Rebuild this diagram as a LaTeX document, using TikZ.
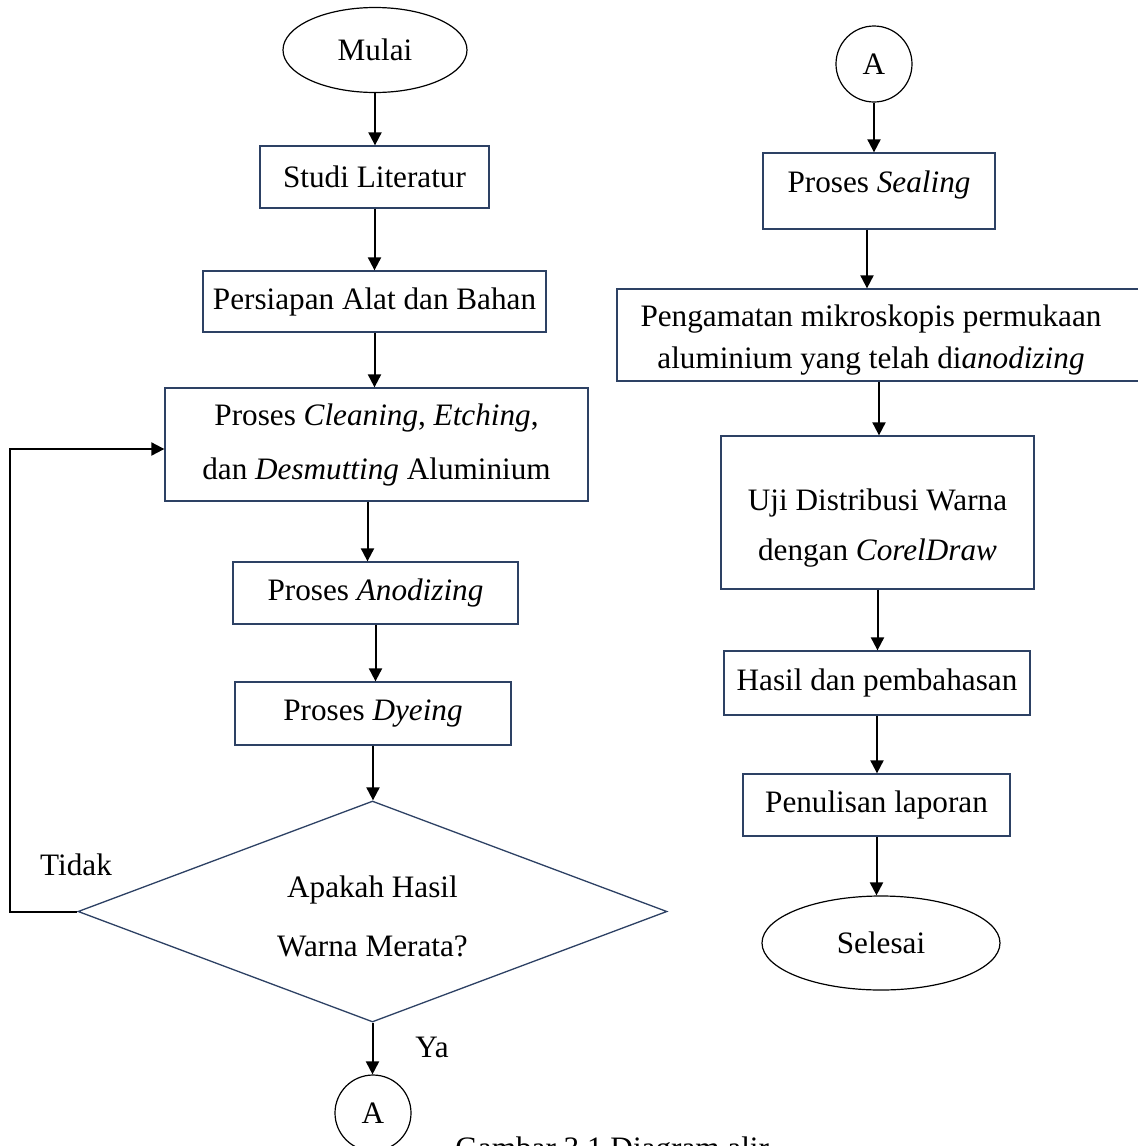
\documentclass[tikz,border=0pt]{standalone}
\usepackage{fontspec}
\setmainfont{Liberation Serif}
\usetikzlibrary{shapes.geometric,arrows.meta,calc}
\definecolor{boxblue}{RGB}{45,65,100}
\begin{document}
\begin{tikzpicture}[x=0.5pt,y=-0.5pt,
 every node/.style={font=\fontsize{15.6pt}{24pt}\selectfont, inner sep=0pt},
 pbox/.style={draw=boxblue, line width=0.65pt, rectangle, align=center},
 term/.style={draw=black, line width=0.6pt, ellipse},
 conn/.style={draw=black, line width=0.6pt, circle, minimum size=38pt},
 arr/.style={line width=1pt, -{Triangle[width=6.5pt,length=6.5pt]}},
]
\fill[white] (0,0) rectangle (1137,1146);
\useasboundingbox (0,0) rectangle (1137,1146);

% left column
\node[term, minimum width=92pt, minimum height=42.5pt] (mulai) at (375,50) {Mulai};
\node[pbox, minimum width=114.5pt, minimum height=31pt] (studi) at (374.5,177) {Studi Literatur};
\node[pbox, minimum width=171.5pt, minimum height=30.5pt] (alat) at (374.5,301.5) {Persiapan Alat dan Bahan};
\node[pbox, minimum width=211.5pt, minimum height=56.5pt, font=\fontsize{15.6pt}{27pt}\selectfont] (clean) at (376.5,444.5) {Proses \textit{Cleaning}, \textit{Etching},\\dan \textit{Desmutting} Aluminium};
\node[pbox, minimum width=142.5pt, minimum height=31pt] (anod) at (375.5,593) {Proses \textit{Anodizing}};
\node[pbox, minimum width=138pt, minimum height=31.5pt] (dye) at (373,713.5) {Proses \textit{Dyeing}};
\node[draw=boxblue, line width=0.65pt, diamond, shape aspect=2.67, minimum width=294.5pt, minimum height=110.5pt] (cek) at (372.5,911.5) {};
\node[align=center, font=\fontsize{15.6pt}{29.5pt}\selectfont] (cekt) at (372.5,916) {Apakah Hasil\\Warna Merata?};
\node[conn] (a1) at (373,1113) {A};
\node (ya) at (432,1047) {Ya};
\node (tidak) at (76,865) {Tidak};
\node[anchor=base west] (cap) at (455,1158.5) {Gambar 3.1 Diagram alir};

% right column
\node[conn] (a2) at (874,64) {A};
\node[pbox, minimum width=116pt, minimum height=38pt] (seal) at (879,191) {};
\node (sealt) at (879,185) {Proses \textit{Sealing}};
\node[pbox, minimum width=262pt, minimum height=46pt] (peng) at (879,335) {};
\node[align=center, font=\fontsize{15.6pt}{21pt}\selectfont] (pengt) at (871,340) {Pengamatan mikroskopis permukaan\\aluminium yang telah di\textit{anodizing}};
\node[pbox, minimum width=156.5pt, minimum height=76.5pt] (uji) at (877.5,512.5) {};
\node[align=center, font=\fontsize{15.6pt}{25pt}\selectfont] (ujit) at (877.5,528) {Uji Distribusi Warna\\dengan \textit{CorelDraw}};
\node[pbox, minimum width=153pt, minimum height=32pt] (hasil) at (877,683) {Hasil dan pembahasan};
\node[pbox, minimum width=133.5pt, minimum height=31pt] (penul) at (876.5,805) {Penulisan laporan};
\node[term, minimum width=119pt, minimum height=47pt] (selesai) at (881,943) {Selesai};

% connectors left
\draw[arr] (mulai.south) -- (mulai.south |- studi.north);
\draw[arr] (studi.south) -- (studi.south |- alat.north);
\draw[arr] (alat.south) -- (alat.south |- clean.north);
\coordinate (c1) at ($(clean.south)+(-9,0)$);
\draw[arr] (c1) -- (c1 |- anod.north);
\draw[arr] (anod.south) -- (anod.south |- dye.north);
\draw[arr] (dye.south) -- (dye.south |- cek.north);
\draw[arr] (cek.south) -- (cek.south |- a1.north);
\coordinate (lc) at (10,449);
\draw[arr] (cek.west) -| (lc) -- (lc -| clean.west);

% connectors right
\draw[arr] (a2.south) -- (a2.south |- seal.north);
\coordinate (s1) at ($(seal.south)+(-12,0)$);
\draw[arr] (s1) -- (s1 |- peng.north);
\draw[arr] (peng.south) -- (peng.south |- uji.north);
\draw[arr] (uji.south) -- (uji.south |- hasil.north);
\draw[arr] (hasil.south) -- (hasil.south |- penul.north);
\draw[arr] (penul.south) -- (penul.south |- selesai.north);
\end{tikzpicture}
\end{document}
